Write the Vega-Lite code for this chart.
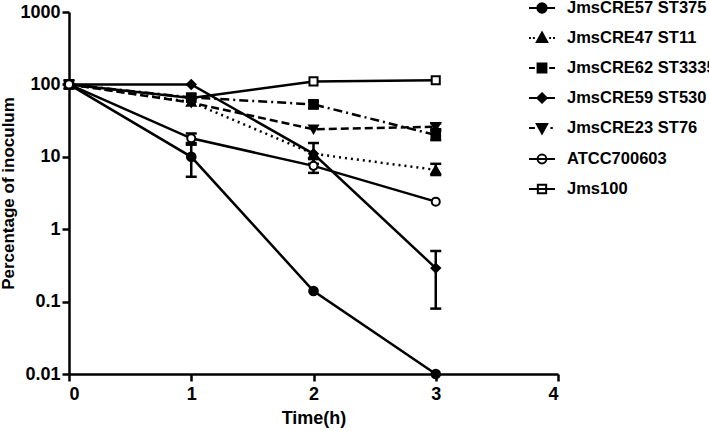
{
  "$schema": "https://vega.github.io/schema/vega-lite/v6.json",
  "width": 489,
  "height": 362,
  "autosize": "none",
  "padding": {"left": 69, "top": 12, "right": 151, "bottom": 57},
  "background": "white",
  "config": {
    "view": {"stroke": null},
    "font": "Liberation Sans",
    "axis": {"domainColor": "black", "domainWidth": 2.5, "tickColor": "black", "tickWidth": 2.5, "tickSize": 7, "labelFont": "Liberation Sans", "labelFontWeight": "bold", "labelFontSize": 18, "labelColor": "black", "titleFont": "Liberation Sans", "titleFontWeight": "bold", "titleFontSize": 18, "titleColor": "black", "grid": false},
    "legend": {"title": null, "orient": "none", "legendX": 459, "legendY": -18, "labelFont": "Liberation Sans", "labelFontWeight": "bold", "labelFontSize": 16.5, "labelColor": "black", "labelLimit": 300, "symbolSize": 676, "symbolStrokeWidth": 2.2, "symbolStrokeColor": "black", "symbolOpacity": 1, "rowPadding": 7, "labelOffset": 11, "padding": 0},
    "point": {"filled": true, "stroke": "black", "strokeWidth": 2, "size": 75, "opacity": 1},
    "line": {"color": "black", "strokeWidth": 2.5}
  },
  "datasets": {
    "pts": [
      {"series": "JmsCRE57 ST375", "t": 0, "v": 100},
      {"series": "JmsCRE57 ST375", "t": 1, "v": 10},
      {"series": "JmsCRE57 ST375", "t": 2, "v": 0.14},
      {"series": "JmsCRE57 ST375", "t": 3, "v": 0.01},
      {"series": "JmsCRE47 ST11", "t": 0, "v": 100},
      {"series": "JmsCRE47 ST11", "t": 1, "v": 57},
      {"series": "JmsCRE47 ST11", "t": 2, "v": 11},
      {"series": "JmsCRE47 ST11", "t": 3, "v": 6.6},
      {"series": "JmsCRE62 ST3335", "t": 0, "v": 100},
      {"series": "JmsCRE62 ST3335", "t": 1, "v": 66},
      {"series": "JmsCRE62 ST3335", "t": 2, "v": 53},
      {"series": "JmsCRE62 ST3335", "t": 3, "v": 20},
      {"series": "JmsCRE59 ST530", "t": 0, "v": 100},
      {"series": "JmsCRE59 ST530", "t": 1, "v": 100},
      {"series": "JmsCRE59 ST530", "t": 2, "v": 11},
      {"series": "JmsCRE59 ST530", "t": 3, "v": 0.29},
      {"series": "JmsCRE23 ST76", "t": 0, "v": 100},
      {"series": "JmsCRE23 ST76", "t": 1, "v": 56},
      {"series": "JmsCRE23 ST76", "t": 2, "v": 24},
      {"series": "JmsCRE23 ST76", "t": 3, "v": 26},
      {"series": "ATCC700603", "t": 0, "v": 100},
      {"series": "ATCC700603", "t": 1, "v": 18},
      {"series": "ATCC700603", "t": 2, "v": 7.5},
      {"series": "ATCC700603", "t": 3, "v": 2.4},
      {"series": "Jms100", "t": 0, "v": 100},
      {"series": "Jms100", "t": 1, "v": 65},
      {"series": "Jms100", "t": 2, "v": 110},
      {"series": "Jms100", "t": 3, "v": 114}
    ],
    "errs": [
      {"series": "JmsCRE57 ST375", "t": 1, "lo": 5.3, "hi": 14.7},
      {"series": "JmsCRE59 ST530", "t": 2, "lo": 8, "hi": 15.5},
      {"series": "JmsCRE59 ST530", "t": 3, "lo": 0.08, "hi": 0.5},
      {"series": "ATCC700603", "t": 1, "lo": 15.5, "hi": 21},
      {"series": "ATCC700603", "t": 2, "lo": 6, "hi": 9.3},
      {"series": "JmsCRE47 ST11", "t": 3, "lo": 5.6, "hi": 8},
      {"series": "JmsCRE62 ST3335", "t": 3, "lo": 17, "hi": 24},
      {"series": "JmsCRE23 ST76", "t": 3, "lo": 23, "hi": 29},
      {"series": "JmsCRE62 ST3335", "t": 2, "lo": 47, "hi": 58}
    ],
    "leg": [
      {"label": "JmsCRE57 ST375"},
      {"label": "JmsCRE47 ST11"},
      {"label": "JmsCRE62 ST3335"},
      {"label": "JmsCRE59 ST530"},
      {"label": "JmsCRE23 ST76"},
      {"label": "ATCC700603"},
      {"label": "Jms100"}
    ]
  },
  "layer": [
    {
      "data": {"name": "errs"},
      "mark": {"type": "rule", "color": "black", "strokeWidth": 2.5},
      "encoding": {
        "x": {"field": "t", "type": "quantitative", "scale": {"domain": [0, 4], "nice": false}, "axis": {"values": [0, 1, 2, 3, 4], "format": "d", "title": "Time(h)", "titlePadding": 6, "labelPadding": 4}},
        "y": {"field": "lo", "type": "quantitative", "scale": {"type": "log", "domain": [0.01, 1000], "nice": false}, "axis": {"values": [0.01, 0.1, 1, 10, 100, 1000], "format": "~g", "title": "Percentage of inoculum", "titleFontSize": 17, "titlePadding": 2, "labelPadding": 2}},
        "y2": {"field": "hi"}
      }
    },
    {
      "data": {"name": "errs"},
      "mark": {"type": "tick", "orient": "horizontal", "color": "black", "size": 11, "thickness": 2.5, "opacity": 1},
      "encoding": {"x": {"field": "t", "type": "quantitative"}, "y": {"field": "lo", "type": "quantitative"}}
    },
    {
      "data": {"name": "errs"},
      "mark": {"type": "tick", "orient": "horizontal", "color": "black", "size": 11, "thickness": 2.5, "opacity": 1},
      "encoding": {"x": {"field": "t", "type": "quantitative"}, "y": {"field": "hi", "type": "quantitative"}}
    },
    {
      "data": {"name": "pts"},
      "transform": [{"filter": {"field": "series", "oneOf": ["JmsCRE57 ST375", "JmsCRE59 ST530", "ATCC700603", "Jms100"]}}],
      "mark": {"type": "line"},
      "encoding": {"x": {"field": "t", "type": "quantitative"}, "y": {"field": "v", "type": "quantitative"}, "detail": {"field": "series"}}
    },
    {
      "data": {"name": "pts"},
      "transform": [{"filter": "datum.series === 'JmsCRE47 ST11'"}],
      "mark": {"type": "line", "strokeDash": [2, 4]},
      "encoding": {"x": {"field": "t", "type": "quantitative"}, "y": {"field": "v", "type": "quantitative"}}
    },
    {
      "data": {"name": "pts"},
      "transform": [{"filter": "datum.series === 'JmsCRE62 ST3335'"}],
      "mark": {"type": "line", "strokeDash": [9, 4, 2, 4]},
      "encoding": {"x": {"field": "t", "type": "quantitative"}, "y": {"field": "v", "type": "quantitative"}}
    },
    {
      "data": {"name": "pts"},
      "transform": [{"filter": "datum.series === 'JmsCRE23 ST76'"}],
      "mark": {"type": "line", "strokeDash": [8, 4]},
      "encoding": {"x": {"field": "t", "type": "quantitative"}, "y": {"field": "v", "type": "quantitative"}}
    },
    {
      "data": {"name": "pts"},
      "transform": [{"filter": "datum.series === 'Jms100'"}],
      "mark": {"type": "point", "shape": "square", "fill": "white", "size": 65},
      "encoding": {"x": {"field": "t", "type": "quantitative"}, "y": {"field": "v", "type": "quantitative"}}
    },
    {
      "data": {"name": "pts"},
      "transform": [{"filter": "datum.series === 'JmsCRE57 ST375'"}],
      "mark": {"type": "point", "shape": "circle", "fill": "black"},
      "encoding": {"x": {"field": "t", "type": "quantitative"}, "y": {"field": "v", "type": "quantitative"}}
    },
    {
      "data": {"name": "pts"},
      "transform": [{"filter": "datum.series === 'JmsCRE47 ST11'"}],
      "mark": {"type": "point", "shape": "triangle-up", "fill": "black"},
      "encoding": {"x": {"field": "t", "type": "quantitative"}, "y": {"field": "v", "type": "quantitative"}}
    },
    {
      "data": {"name": "pts"},
      "transform": [{"filter": "datum.series === 'JmsCRE62 ST3335'"}],
      "mark": {"type": "point", "shape": "square", "fill": "black"},
      "encoding": {"x": {"field": "t", "type": "quantitative"}, "y": {"field": "v", "type": "quantitative"}}
    },
    {
      "data": {"name": "pts"},
      "transform": [{"filter": "datum.series === 'JmsCRE59 ST530'"}],
      "mark": {"type": "point", "shape": "diamond", "fill": "black"},
      "encoding": {"x": {"field": "t", "type": "quantitative"}, "y": {"field": "v", "type": "quantitative"}}
    },
    {
      "data": {"name": "pts"},
      "transform": [{"filter": "datum.series === 'JmsCRE23 ST76'"}],
      "mark": {"type": "point", "shape": "triangle-down", "fill": "black"},
      "encoding": {"x": {"field": "t", "type": "quantitative"}, "y": {"field": "v", "type": "quantitative"}}
    },
    {
      "data": {"name": "pts"},
      "transform": [{"filter": "datum.series === 'ATCC700603'"}],
      "mark": {"type": "point", "shape": "circle", "fill": "white", "size": 65},
      "encoding": {"x": {"field": "t", "type": "quantitative"}, "y": {"field": "v", "type": "quantitative"}}
    },
    {
      "data": {"name": "leg"},
      "mark": {"type": "point", "filled": true, "strokeWidth": 2.2, "size": 676, "opacity": 0},
      "encoding": {
        "shape": {"field": "label", "type": "nominal", "sort": null,
          "scale": {"domain": ["JmsCRE57 ST375", "JmsCRE47 ST11", "JmsCRE62 ST3335", "JmsCRE59 ST530", "JmsCRE23 ST76", "ATCC700603", "Jms100"],
            "range": [
              "M-1,0H1M0.36,0A0.36,0.36,0,1,1,-0.36,0A0.36,0.36,0,1,1,0.36,0Z",
              "M-1,0h0.15M-0.7,0h0.15M0.55,0h0.15M0.85,0h0.15M0,-0.42L0.4,0.3L-0.4,0.3Z",
              "M-1,0h0.45M0.55,0H1M-0.34,-0.34h0.68v0.68h-0.68Z",
              "M-1,0H1M0,-0.36L0.36,0L0,0.36L-0.36,0Z",
              "M-1,0h0.45M0.65,0h0.18M-0.4,-0.3L0.4,-0.3L0,0.42Z",
              "M-1,0H1M0.34,0A0.34,0.34,0,1,1,-0.34,0A0.34,0.34,0,1,1,0.34,0Z",
              "M-1,0H1M-0.32,-0.32h0.64v0.64h-0.64Z"
            ]}},
        "fill": {"field": "label", "type": "nominal", "sort": null,
          "scale": {"domain": ["JmsCRE57 ST375", "JmsCRE47 ST11", "JmsCRE62 ST3335", "JmsCRE59 ST530", "JmsCRE23 ST76", "ATCC700603", "Jms100"], "range": ["black", "black", "black", "black", "black", "white", "white"]}},
        "stroke": {"field": "label", "type": "nominal", "sort": null,
          "scale": {"domain": ["JmsCRE57 ST375", "JmsCRE47 ST11", "JmsCRE62 ST3335", "JmsCRE59 ST530", "JmsCRE23 ST76", "ATCC700603", "Jms100"], "range": ["black", "black", "black", "black", "black", "black", "black"]}}
      }
    }
  ]
}
